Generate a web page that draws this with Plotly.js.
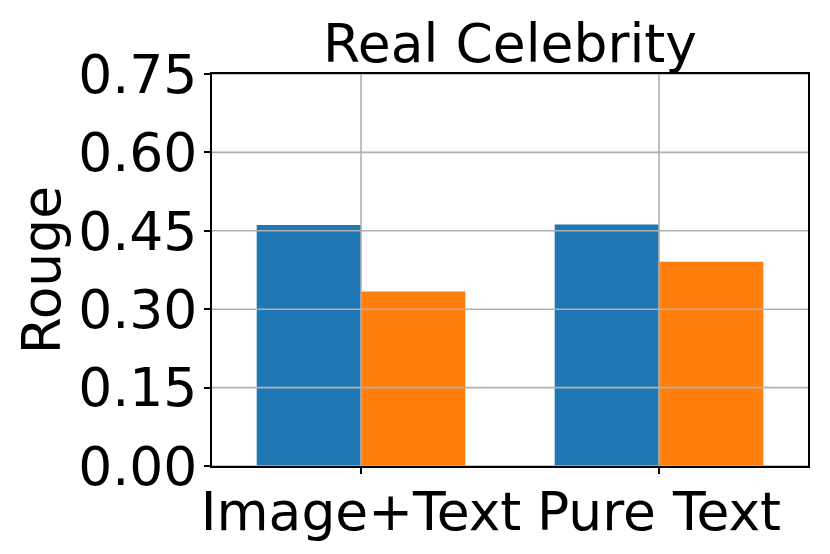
<!DOCTYPE html>
<html>
<head>
<meta charset="utf-8">
<script src="https://cdn.plot.ly/plotly-3.0.1.min.js"></script>
<style>
    html, body { margin: 0; padding: 0; background: #fff; }
    #chart { width: 830px; height: 554px; }
</style>
</head>
<body>
<div id="chart"></div>
<script>
const categories = ["Image+Text", "Pure Text"]
const blueValues = [0.461, 0.462]
const orangeValues = [0.334, 0.391]
const yTicks = [0, 0.15, 0.30, 0.45, 0.60, 0.75]

const font = "DejaVu Sans"
const fontSize = 53.5

const traceBlue = {
    type: 'bar',
    x: categories,
    y: blueValues,
    name: 'Blue',
    marker: { color: '#1f77b4' }
}

const traceOrange = {
    type: 'bar',
    x: categories,
    y: orangeValues,
    name: 'Orange',
    marker: { color: '#ff7f0e' }
}

// gridlines drawn over the bars, like the original
const gridShapes = []
yTicks.forEach(v => {
    gridShapes.push({
        type: 'line', xref: 'paper', yref: 'y',
        x0: 0, x1: 1, y0: v, y1: v,
        line: { color: '#b0b0b0', width: 1.6 },
        layer: 'above'
    })
})
categories.forEach(c => {
    gridShapes.push({
        type: 'line', xref: 'x', yref: 'paper',
        x0: c, x1: c, y0: 0, y1: 1,
        line: { color: '#b0b0b0', width: 1.6 },
        layer: 'above'
    })
})

const layout = {
    width: 830,
    height: 554,
    margin: { l: 212, r: 22, t: 74, b: 88 },
    paper_bgcolor: '#fff',
    plot_bgcolor: '#fff',
    font: { family: font, size: fontSize, color: '#000' },
    showlegend: false,
    barmode: 'group',
    bargap: 0.3,
    bargroupgap: 0,
    title: {
        text: 'Real Celebrity',
        font: { family: font, size: fontSize, color: '#000' },
        x: 0.5, xref: 'paper', xanchor: 'center',
        y: 1, yref: 'paper', yanchor: 'bottom',
        pad: { b: 12 }
    },
    xaxis: {
        type: 'category',
        range: [-0.5, 1.5],
        showgrid: false,
        showline: true, linecolor: '#000', linewidth: 2, mirror: true,
        ticks: 'outside', ticklen: 6, tickwidth: 2, tickcolor: '#000',
        tickfont: { family: font, size: fontSize, color: '#000' },
        ticklabelstandoff: -8,
        zeroline: false
    },
    yaxis: {
        range: [0, 0.75],
        tickvals: yTicks,
        ticktext: yTicks.map(v => v.toFixed(2)),
        showgrid: false,
        showline: true, linecolor: '#000', linewidth: 2, mirror: true,
        ticks: 'outside', ticklen: 6, tickwidth: 2, tickcolor: '#000',
        tickfont: { family: font, size: fontSize, color: '#000' },
        ticklabelstandoff: -4,
        zeroline: false,
        title: {
            text: 'Rouge',
            font: { family: font, size: fontSize, color: '#000' },
            standoff: 0
        }
    },
    shapes: gridShapes
}

Plotly.newPlot('chart', [traceBlue, traceOrange], layout, { displayModeBar: false, staticPlot: true })
</script>
</body>
</html>
